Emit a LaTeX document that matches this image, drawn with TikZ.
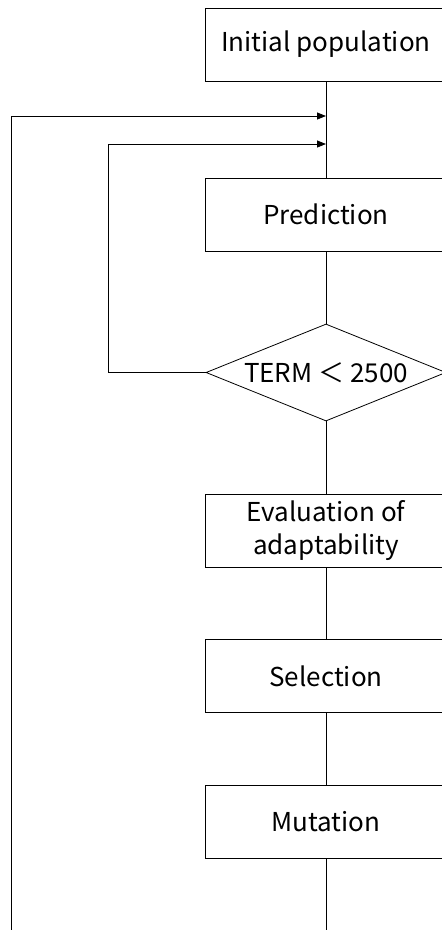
\documentclass[tikz,border=0pt]{standalone}
\usepackage{fontspec}
\setmainfont{Noto Sans CJK JP}
\usetikzlibrary{shapes.geometric,arrows.meta}

\begin{document}
\begin{tikzpicture}[x=1pt,y=-1pt,
    font=\fontsize{26}{33}\selectfont,
    stepbox/.style={draw,line width=0.8pt,minimum width=242pt,minimum height=73pt,inner sep=0pt,align=center},
    testbox/.style={draw,diamond,line width=0.8pt,minimum width=240pt,minimum height=97pt,inner sep=0pt},
    link/.style={line width=0.8pt},
    back/.style={line width=0.8pt,-{Triangle[length=9pt,width=7pt]}}]
    % Fix the frame
    \useasboundingbox (0,0) rectangle (442,930);
    \clip (0,0) rectangle (442,930);

    % Draw the steps
    \node[stepbox] (init) at (326,44.5) {Initial population};
    \node[stepbox] (pred) at (326,214.5) {Prediction};
    \node[testbox,label=center:{TERM ＜ 2500}] (term) at (326,372.5) {};
    \node[stepbox] (eval) at (326,530.5) {Evaluation of\\adaptability};
    \node[stepbox] (sel) at (326,676) {Selection};
    \node[stepbox] (mut) at (326,822) {Mutation};

    % Points where the loops come back
    \coordinate (outerin) at (326,116);
    \coordinate (innerin) at (326,144);
    \coordinate (outerfoot) at (11,930);
    \coordinate (mainfoot) at (326,930);

    % Draw main line
    \draw[link] (init) -- (pred);
    \draw[link] (pred) -- (term);
    \draw[link] (term) -- (eval);
    \draw[link] (eval) -- (sel);
    \draw[link] (sel) -- (mut);
    \draw[link] (mut) -- (mainfoot);

    % Draw loops back
    \draw[back] (term.west) -| (108,144) -- (innerin);
    \draw[back] (outerfoot) |- (outerin);
\end{tikzpicture}
\end{document}
